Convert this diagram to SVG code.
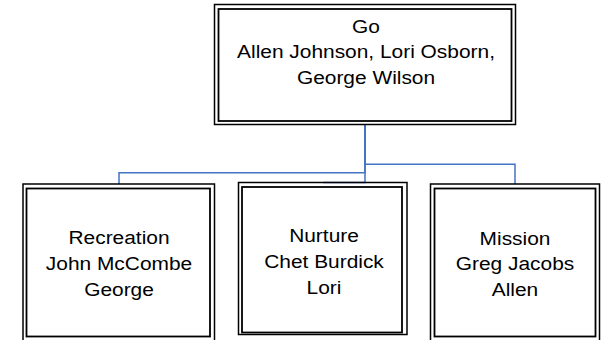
<svg xmlns="http://www.w3.org/2000/svg" width="606" height="340" viewBox="0 0 606 340">
<style>
.o{fill:none;stroke:#000;stroke-width:1.5}
.i{fill:none;stroke:#000;stroke-width:1.8}
.bg{fill:#fff}
.t{font-family:"Liberation Sans",Arial,sans-serif;font-size:19px;fill:#000;text-anchor:middle}
.c{fill:none;stroke:#4472C4;stroke-width:1.5}
</style>
<rect width="606" height="340" fill="#fff"/>
<g id="connectors">
<path class="c" d="M365 125V182.5H323"/>
<path class="c" d="M365 125V172.7H119V184"/>
<path class="c" d="M365 125V164.3H515V184"/>
</g>
<g id="node-go">
<rect class="o" x="214.5" y="4.5" width="301" height="120"/>
<rect class="i" x="218.5" y="9" width="293" height="112"/>
<g transform="translate(366 0) scale(1.1 1)">
<text class="t" x="0" y="33">Go</text>
<text class="t" x="0" y="58.5">Allen Johnson, Lori Osborn,</text>
<text class="t" x="0" y="84.5">George Wilson</text>
</g>
</g>
<g id="node-recreation">
<rect class="o" x="23" y="184" width="191.5" height="157"/>
<rect class="i" x="26.5" y="188.5" width="183.5" height="148"/>
<g transform="translate(119 0) scale(1.1 1)">
<text class="t" x="0" y="244.5">Recreation</text>
<text class="t" x="0" y="270.5">John McCombe</text>
<text class="t" x="0" y="296">George</text>
</g>
</g>
<g id="node-nurture">
<rect class="o" x="238.5" y="182.5" width="168.5" height="152"/>
<rect class="i" x="242" y="187" width="160" height="145.5"/>
<g transform="translate(324 0) scale(1.1 1)">
<text class="t" x="0" y="242">Nurture</text>
<text class="t" x="0" y="268">Chet Burdick</text>
<text class="t" x="0" y="294.5">Lori</text>
</g>
</g>
<g id="node-mission">
<rect class="o" x="430.5" y="184" width="169" height="157"/>
<rect class="i" x="434.5" y="188.5" width="161" height="148"/>
<g transform="translate(515 0) scale(1.1 1)">
<text class="t" x="0" y="245">Mission</text>
<text class="t" x="0" y="270.5">Greg Jacobs</text>
<text class="t" x="0" y="296.5">Allen</text>
</g>
</g>
</svg>
